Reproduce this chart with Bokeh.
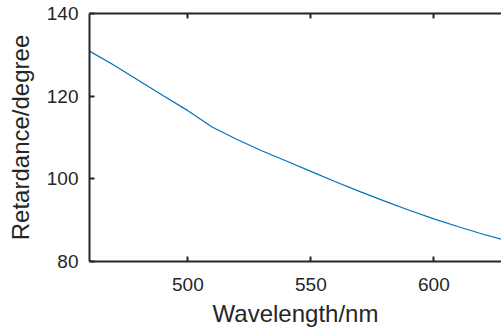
from bokeh.plotting import figure
from bokeh.models import LinearAxis, FixedTicker, Range1d
from bokeh.embed import file_html
from bokeh.resources import INLINE

wavelength = [460, 470, 480, 490, 500, 510, 520, 530, 540, 550, 560, 570, 580, 590, 600, 610, 620, 630]
retardance = [130.9, 127.5, 123.8, 120.1, 116.5, 112.5, 109.5, 106.8, 104.3, 101.8, 99.3, 96.9, 94.6, 92.4, 90.3, 88.4, 86.6, 85.0]

x_ticks = [500, 550, 600]
y_ticks = [80, 100, 120, 140]

AX = "#262626"
FONT = "Liberation Sans"

p = figure(width=501, height=330, output_backend="svg", toolbar_location=None,
           x_range=Range1d(460, 627.5), y_range=Range1d(80, 140),
           min_border_left=89, min_border_top=13, min_border_bottom=69, min_border_right=0,
           x_axis_label="Wavelength/nm", y_axis_label="Retardance/degree")
p.grid.visible = False
p.outline_line_color = None
p.background_fill_color = "white"
p.border_fill_color = "white"

p.line(wavelength, retardance, line_color="#0072BD", line_width=1.2)

bottom = p.below[0]
left = p.left[0]
top = LinearAxis()
p.add_layout(top, "above")

for ax in [bottom, left, top]:
    ax.axis_line_color = AX
    ax.axis_line_width = 2
    ax.major_tick_line_color = AX
    ax.major_tick_line_width = 2
    ax.major_tick_in = 5
    ax.major_tick_out = 0
    ax.minor_tick_line_color = None
    ax.major_label_text_color = AX
    ax.major_label_text_font = FONT
    ax.major_label_text_font_size = "19px"
    ax.axis_label_text_color = AX
    ax.axis_label_text_font = FONT
    ax.axis_label_text_font_size = "24px"
    ax.axis_label_text_font_style = "normal"

bottom.ticker = FixedTicker(ticks=x_ticks)
top.ticker = FixedTicker(ticks=x_ticks)
left.ticker = FixedTicker(ticks=y_ticks)
top.major_label_text_color = None
top.major_label_text_font_size = "1px"
top.major_label_standoff = 0

bottom.major_label_standoff = 16
bottom.axis_label_standoff = 6
left.major_label_standoff = 11
left.axis_label_standoff = 10

open("out.html", "w").write(file_html(p, INLINE))
